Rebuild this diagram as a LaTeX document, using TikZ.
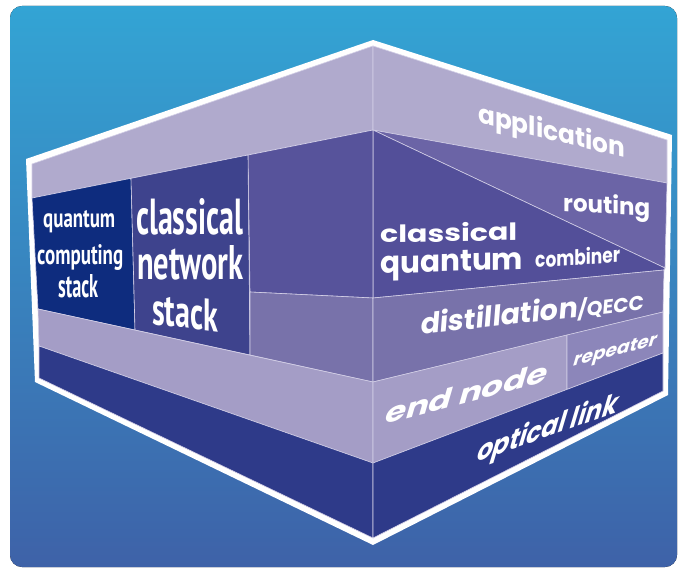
\documentclass[tikz,border=0pt]{standalone}
\usepackage{fontspec}
\usepackage{graphicx}
\setmainfont{Poppins}
\newfontfamily\condfont{PT Sans}
\definecolor{bgtop}{HTML}{33A4D4}
\definecolor{bgbot}{HTML}{3E62A8}
\definecolor{lavtop}{HTML}{B0AACD}
\definecolor{lavlow}{HTML}{A49DC6}
\definecolor{qcstack}{HTML}{0E2C7E}
\definecolor{cnstack}{HTML}{3E438D}
\definecolor{combl}{HTML}{57539B}
\definecolor{combr}{HTML}{534F99}
\definecolor{routc}{HTML}{6B64A6}
\definecolor{distc}{HTML}{7872AA}
\definecolor{repc}{HTML}{8C86BA}
\definecolor{optc}{HTML}{2E3A89}
\definecolor{sepcol}{HTML}{D2CEE6}
\tikzset{
  region/.style={draw=sepcol, line width=0.6pt, line join=round},
  lbl/.style={text=white, inner sep=0pt, anchor=base west, transform shape, font=\bfseries},
}
\newcommand\flab[8]{%
  \begin{scope}[shift={(#2,#3)}, cm={1,#4,#5,1,(0,0)}]
    \node[lbl] (#1) at (0,0) {\resizebox{#6pt}{#7pt}{#8}};
  \end{scope}}
\begin{document}
\begin{tikzpicture}[x=1pt,y=-1pt]
\useasboundingbox (0,0) rectangle (678,569);
% background
\fill[top color=bgtop, bottom color=bgbot, rounded corners=12pt] (10,6) rectangle (677,567);
% white border
\fill[white] (26,159) -- (373,40) -- (672,135) -- (668,395) -- (373,545) -- (35,382) -- cycle;
% coordinates
\coordinate (TL) at (32,164);
\coordinate (TF) at (373,46);
\coordinate (TR) at (667,140);
\coordinate (BL) at (39,378);
\coordinate (BF) at (373,538);
\coordinate (BR) at (663,391);
\coordinate (A0) at (32,198);
\coordinate (A1) at (131,178.3);
\coordinate (A2) at (248,155);
\coordinate (F1) at (373,130);
\coordinate (R1) at (667,183);
\coordinate (R2) at (665,268);
\coordinate (R3) at (664,270);
\coordinate (F2) at (373,298);
\coordinate (C2) at (250,292);
\coordinate (E0) at (38,309);
\coordinate (E1) at (135,330);
\coordinate (E2) at (250,355);
\coordinate (F3) at (373,382);
\coordinate (R4) at (663,312);
\coordinate (P1) at (567,335);
\coordinate (P2) at (567,389.4);
\coordinate (G0) at (39,346);
\coordinate (F4) at (373,463);
\coordinate (R5) at (663,353);
% regions
\filldraw[region, fill=lavtop] (TL) -- (TF) -- (F1) -- (A0) -- cycle;
\filldraw[region, fill=lavtop] (TF) -- (TR) -- (R1) -- (F1) -- cycle;
\filldraw[region, fill=routc] (F1) -- (R1) -- (R2) -- cycle;
\filldraw[region, fill=combr] (F1) -- (R2) -- (R3) -- (F2) -- cycle;
\filldraw[region, fill=combl] (A2) -- (F1) -- (F2) -- (C2) -- cycle;
\filldraw[region, fill=qcstack] (A0) -- (A1) -- (E1) -- (E0) -- cycle;
\filldraw[region, fill=cnstack] (A1) -- (A2) -- (E2) -- (E1) -- cycle;
\filldraw[region, fill=distc] (C2) -- (F2) -- (F3) -- (E2) -- cycle;
\filldraw[region, fill=distc] (F2) -- (R3) -- (R4) -- (F3) -- cycle;
\filldraw[region, fill=lavlow] (E0) -- (F3) -- (F4) -- (G0) -- cycle;
\filldraw[region, fill=lavlow] (F3) -- (P1) -- (P2) -- (F4) -- cycle;
\filldraw[region, fill=repc] (P1) -- (R4) -- (R5) -- (P2) -- cycle;
\filldraw[region, fill=optc] (G0) -- (F4) -- (BF) -- (BL) -- cycle;
\filldraw[region, fill=optc] (F4) -- (R5) -- (BR) -- (BF) -- cycle;
% right face labels
\flab{application}{478}{122}{-0.245}{0}{147}{21}{application}
\flab{routing}{563}{211}{-0.06}{0}{87}{19}{routing}
\flab{classicalR}{380}{243}{0.02}{0}{137}{19}{classical}
\flab{quantumR}{380}{274}{0.035}{0}{143}{21}{quantum}
\flab{combiner}{535}{268}{0.07}{0}{85}{17}{combiner}
\flab{distillation}{420}{335}{0.113}{0.08}{223}{23}{\fontsize{30pt}{30pt}\selectfont distillation\fontsize{21pt}{21pt}\selectfont/QECC}
\flab{endnode}{383}{425}{0.265}{0.29}{162}{21}{end node}
\flab{repeater}{572}{367}{0.265}{0.29}{83}{13}{repeater}
\flab{opticallink}{475}{463}{0.357}{0.3}{140}{24}{optical link}
% left face labels
\flab{qcs1}{43}{228}{0}{0}{72}{17}{\condfont quantum}
\flab{qcs2}{37}{265}{0}{0}{86}{20}{\condfont computing}
\flab{qcs3}{58}{298}{0}{0}{40}{23}{\condfont stack}
\flab{cns1}{136}{235}{0}{0}{107}{36}{\condfont classical}
\flab{cns2}{137}{280}{0}{0}{106}{34}{\condfont network}
\flab{cns3}{152}{324}{-0.12}{0}{66}{32}{\condfont stack}
\end{tikzpicture}
\end{document}
